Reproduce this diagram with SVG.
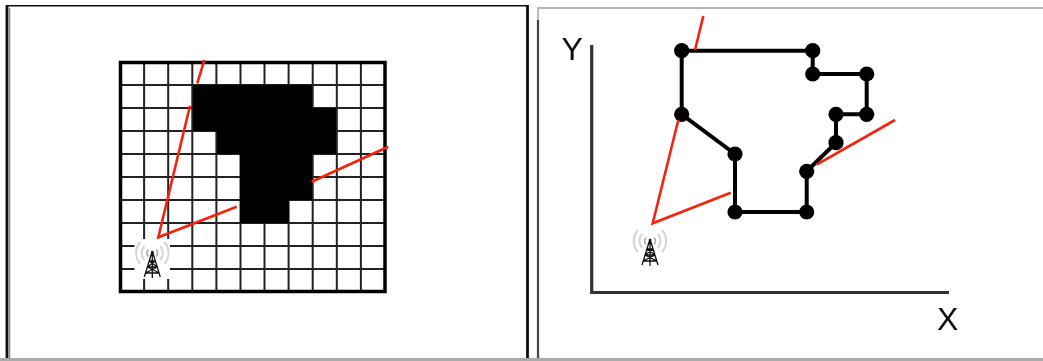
<svg xmlns="http://www.w3.org/2000/svg" width="1043" height="361" viewBox="0 0 1043 361">
<style>
.grid{stroke:#222;stroke-width:2;fill:none}
.outer{stroke:#000;stroke-width:3.500;fill:none}
.red{stroke:#f5200a;stroke-width:2.600;fill:none}
.poly{stroke:#000;stroke-width:4;fill:none;stroke-linejoin:round}
.axis{stroke:#333;stroke-width:3.200;fill:none}
.arc{stroke:#d4d4d4;stroke-width:2;fill:none}
.arc2{stroke:#aaa;stroke-width:1.600;fill:none}
.tw{stroke:#111;stroke-width:1.300;fill:none}
.lab{font-family:"Liberation Sans",Arial,sans-serif;font-size:32px;fill:#111}
.node{fill:#000}
</style>
<defs>
<filter id="soft" x="0" y="0" width="100%" height="100%"><feGaussianBlur stdDeviation="0.550"/></filter>
<g id="tower">
<path class="arc" d="M-12-11A16.500 16.500 0 0 0-12 11M12-11A16.500 16.500 0 0 1 12 11"/>
<path class="arc" d="M-8-7A11 11 0 0 0-8 7M8-7A11 11 0 0 1 8 7"/>
<path class="arc2" d="M-4-3.500A5.500 5.500 0 0 0-4 3.500M4-3.500A5.500 5.500 0 0 1 4 3.500"/>
<circle r="1.300" cy="-1" fill="#333"/>
<path class="tw" d="M0-2L-8 24M0-2L8 24M0-2V25M-3 8H3M-5 14H5M-7 20H7M-3 8L5 14M3 8L-5 14M-5 14L7 20M5 14L-7 20"/>
</g>
</defs>
<rect width="1043" height="361" fill="#fff"/>
<g filter="url(#soft)">
<g id="frames">
<path d="M7 361V5H527.500V361" stroke="#111" stroke-width="2.800" fill="none"/>
<path d="M9.500 8V361" stroke="#888" stroke-width="1.500" fill="none"/>
<path d="M538 361V8H1043" stroke="#b4b4b4" stroke-width="1.800" fill="none"/>
<path d="M538 361V20" stroke="#444" stroke-width="2.200" fill="none"/>
<path d="M0 359.500H1043" stroke="#aaa" stroke-width="3" fill="none"/>
</g>
<g id="grid-panel">
<g id="grid">
<path class="grid" d="M144.100 62V292M168.200 62V292M192.300 62V292M216.400 62V292M240.500 62V292M264.500 62V292M288.600 62V292M312.700 62V292M336.800 62V292M360.900 62V292M120 85H385M120 108H385M120 131H385M120 154H385M120 177H385M120 200H385M120 223H385M120 246H385M120 269H385"/>
<rect class="outer" x="120.500" y="62.500" width="264.500" height="229"/>
</g>
<path id="region" fill="#000" d="M193 85H312V108H336V154H312V200H289V223H240V154H217V131H193Z"/>
</g>
<g id="tower-left">
<rect x="134.500" y="239" width="35.500" height="40" fill="#fff"/>
<use href="#tower" x="152.300" y="253"/>
</g>
<g id="polygon-panel">
<path class="axis" d="M591.700 45V292.500H949"/>
<text class="lab" x="561.500" y="60">Y</text>
<text class="lab" x="937" y="330">X</text>
<path class="poly" d="M681.700 50.700H812.700V74H866.700V114.300H836V142.700L806.700 171.300V212H735V154L681.700 114.300Z"/>
<g id="nodes">
<circle class="node" cx="681.700" cy="50.700" r="7.600"/>
<circle class="node" cx="812.700" cy="50.700" r="7.600"/>
<circle class="node" cx="812.700" cy="74" r="7.600"/>
<circle class="node" cx="866.700" cy="74" r="7.600"/>
<circle class="node" cx="866.700" cy="114.300" r="7.600"/>
<circle class="node" cx="836" cy="114.300" r="7.600"/>
<circle class="node" cx="836" cy="142.700" r="7.600"/>
<circle class="node" cx="806.700" cy="171.300" r="7.600"/>
<circle class="node" cx="806.700" cy="212" r="7.600"/>
<circle class="node" cx="735" cy="212" r="7.600"/>
<circle class="node" cx="735" cy="154" r="7.600"/>
<circle class="node" cx="681.700" cy="114.300" r="7.600"/>
</g>
</g>
<g id="tower-right"><use href="#tower" x="650" y="241"/></g>
<g id="connectors">
<path class="red" d="M204.300 60L197.300 83.300M190 105.700L158.300 237.300L236.700 206.700M311.700 181.700L388.300 146.700"/>
<path class="red" d="M703.300 16L695 50M678.300 120L652.700 223.300L730.700 192.700M816.700 164.700L895 120"/>
</g>
</g>
</svg>
